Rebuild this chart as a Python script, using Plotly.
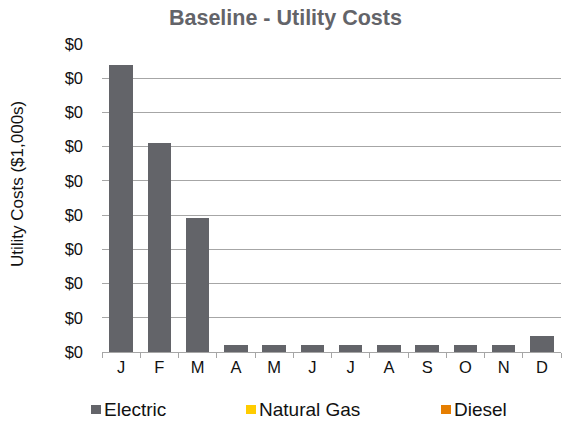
import plotly.graph_objects as go

# Monthly utility costs, in thousands of dollars
months = ["Jan", "Feb", "Mar", "Apr", "May", "Jun",
          "Jul", "Aug", "Sep", "Oct", "Nov", "Dec"]
month_labels = ["J", "F", "M", "A", "M", "J", "J", "A", "S", "O", "N", "D"]

electric = [0.419, 0.305, 0.196, 0.0102, 0.0102, 0.0102,
            0.0102, 0.0102, 0.0102, 0.0102, 0.0102, 0.0234]
natural_gas = [0, 0, 0, 0, 0, 0, 0, 0, 0, 0, 0, 0]
diesel = [0, 0, 0, 0, 0, 0, 0, 0, 0, 0, 0, 0]

series_names = ["Electric", "Natural Gas", "Diesel"]
series_colors = ["#636469", "#FFCC00", "#E67E00"]

FONT = "Liberation Sans, Arial, sans-serif"
W, H = 563, 423
M_L, M_R, M_T, M_B = 102, 2, 44, 71

fig = go.Figure()
for name, vals, color in zip(series_names, [electric, natural_gas, diesel], series_colors):
    fig.add_trace(go.Bar(x=months, y=vals, name=name, marker_color=color,
                         marker_line_width=0, showlegend=False))

fig.update_layout(
    width=W, height=H,
    margin=dict(l=M_L, r=M_R, t=M_T, b=M_B, pad=0),
    barmode="stack", bargap=0.38,
    plot_bgcolor="white", paper_bgcolor="white",
    font=dict(family=FONT, size=16, color="#111111"),
    title=dict(text="<b>Baseline - Utility Costs</b>", x=0.507, xanchor="center",
               y=1 - 17 / H, yanchor="middle",
               font=dict(family=FONT, size=21.5, color="#636469")),
)

fig.update_xaxes(
    type="category", tickvals=months, ticktext=month_labels,
    tickson="boundaries", ticks="outside", ticklen=5, tickcolor="#A6A6A6",
    showline=True, linecolor="#A6A6A6", linewidth=1,
    showgrid=False, tickfont=dict(size=16.5, color="#111111"),
)
fig.update_yaxes(
    range=[0, 0.45], dtick=0.05, tickformat="$,.0f",
    showgrid=True, gridcolor="#A6A6A6", gridwidth=1,
    zeroline=False, showline=False, ticks="",
    ticklabelstandoff=18, tickfont=dict(size=16.5, color="#111111"),
)

# Axis title placed beside the tick labels
fig.add_annotation(text="Utility Costs ($1,000s)", textangle=-90,
                   xref="paper", yref="paper",
                   x=(17 - M_L) / (W - M_L - M_R), y=(H - M_B - 184) / (H - M_T - M_B),
                   xanchor="center", yanchor="middle", showarrow=False,
                   font=dict(family=FONT, size=17, color="#111111"))

# Legend row: colored squares with labels
pw = W - M_L - M_R
ph = H - M_T - M_B
def px_x(v):
    return (v - M_L) / pw
def px_y(v):
    return (H - M_B - v) / ph

swatch_left = [91, 246, 441]
for name, color, sx in zip(series_names, series_colors, swatch_left):
    fig.add_shape(type="rect", xref="paper", yref="paper",
                  x0=px_x(sx), x1=px_x(sx + 10), y0=px_y(405), y1=px_y(414),
                  fillcolor=color, line_width=0)
    fig.add_annotation(text=name, xref="paper", yref="paper",
                       x=px_x(sx + 11), y=px_y(409.5), xanchor="left", yanchor="middle",
                       showarrow=False,
                       font=dict(family=FONT, size=19, color="#111111"))

fig.write_html("out.html")
